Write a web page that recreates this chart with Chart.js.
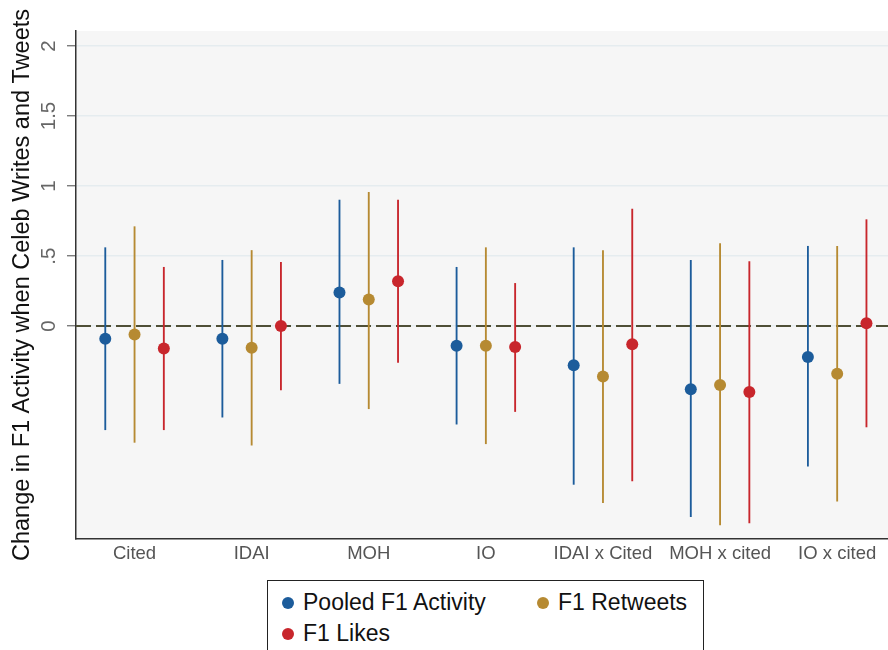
<!DOCTYPE html>
<html>
<head>
<meta charset="utf-8">
<script src="https://cdn.jsdelivr.net/npm/chart.js@4/dist/chart.umd.min.js"></script>
<style>
  body { margin: 0; background: #fff; font-family: "Liberation Sans", Arial, Helvetica, sans-serif; }
  #wrap { position: relative; width: 888px; height: 650px; overflow: hidden; }
  #legend {
    position: absolute; left: 267px; top: 580px; width: 437px; height: 90px;
    border: 1.5px solid #222; box-sizing: border-box;
    font-size: 23px; color: #111;
  }
  .item { position: absolute; white-space: nowrap; line-height: 23px; }
  .dot { position: absolute; width: 12px; height: 12px; border-radius: 50%; left: -21px; top: 5.5px; }
</style>
</head>
<body>
<div id="wrap">
  <canvas id="coefChart" width="888" height="575"></canvas>
  <div id="legend"></div>
</div>
<script>
// categories + tick labels
const categories = ['Cited', 'IDAI', 'MOH', 'IO', 'IDAI x Cited', 'MOH x cited', 'IO x cited'];
const yTicks = [0, 0.5, 1, 1.5, 2];
const yTickLabels = ['0', '.5', '1', '1.5', '2'];

// Pooled F1 Activity
const pooledEst = [-0.09, -0.09, 0.24, -0.14, -0.28, -0.45, -0.22];
const pooledLo  = [-0.74, -0.65, -0.41, -0.70, -1.13, -1.36, -1.00];
const pooledHi  = [0.56, 0.47, 0.90, 0.42, 0.56, 0.47, 0.57];

// F1 Retweets
const retweetEst = [-0.06, -0.155, 0.19, -0.14, -0.36, -0.42, -0.34];
const retweetLo  = [-0.83, -0.85, -0.59, -0.84, -1.26, -1.42, -1.25];
const retweetHi  = [0.71, 0.54, 0.955, 0.56, 0.54, 0.59, 0.57];

// F1 Likes
const likesEst = [-0.16, 0.00, 0.32, -0.15, -0.13, -0.47, 0.02];
const likesLo  = [-0.74, -0.455, -0.26, -0.61, -1.105, -1.405, -0.72];
const likesHi  = [0.42, 0.455, 0.90, 0.305, 0.835, 0.46, 0.76];

const seriesNames = ['Pooled F1 Activity', 'F1 Retweets', 'F1 Likes'];
const seriesColors = ['#1c5c9b', '#b68a32', '#c8262c'];
const series = [
    { est: pooledEst, lo: pooledLo, hi: pooledHi },
    { est: retweetEst, lo: retweetLo, hi: retweetHi },
    { est: likesEst, lo: likesLo, hi: likesHi }
];
const groupShift = [-0.25, 0, 0.25];   // spacing of the 3 series within a category

const FONT = '"Liberation Sans", Arial, Helvetica, sans-serif';

// build datasets: CI as thin floating bars, estimate as dot
const datasets = [];
series.forEach((s, k) => {
    datasets.push({
        type: 'scatter',
        label: seriesNames[k],
        data: s.est.map((v, i) => ({ x: i + groupShift[k], y: v })),
        pointRadius: 6,
        pointHoverRadius: 6,
        pointBackgroundColor: seriesColors[k],
        pointBorderWidth: 0,
        order: 0
    });
    datasets.push({
        type: 'bar',
        label: seriesNames[k] + ' CI',
        data: s.lo.map((v, i) => ({ x: i + groupShift[k], y: [v, s.hi[i]] })),
        backgroundColor: seriesColors[k],
        barThickness: 1.2,
        grouped: false,
        borderWidth: 0,
        order: 1
    });
});

// plot region background + dashed zero line
const plotDecor = {
    id: 'plotDecor',
    beforeDraw(chart) {
        const { ctx, chartArea: a } = chart;
        ctx.save();
        ctx.fillStyle = '#f6f6f6';
        ctx.fillRect(a.left, a.top, a.right - a.left, a.bottom - a.top);
        ctx.restore();
    },
    beforeDatasetsDraw(chart) {
        const { ctx, chartArea: a } = chart;
        const y0 = chart.scales.y.getPixelForValue(0);
        ctx.save();
        ctx.strokeStyle = '#4f4f36';
        ctx.lineWidth = 2;
        ctx.setLineDash([15, 5]);
        ctx.beginPath();
        ctx.moveTo(a.left, y0);
        ctx.lineTo(a.right, y0);
        ctx.stroke();
        ctx.restore();
    }
};

const coefChart = new Chart(document.getElementById('coefChart'), {
    type: 'bar',
    data: { datasets: datasets },
    options: {
        responsive: false,
        animation: false,
        layout: { autoPadding: false, padding: { top: 31, right: 0, left: 0, bottom: 0 } },
        plugins: {
            legend: { display: false },
            tooltip: { enabled: false }
        },
        scales: {
            x: {
                type: 'linear',
                min: -0.5,
                max: 6.434,   // plot runs past the right edge of the image
                offset: false,
                afterBuildTicks: (scale) => { scale.ticks = categories.map((c, i) => ({ value: i })); },
                afterFit: (scale) => { scale.height = 36; },
                grid: { display: false, drawTicks: false, offset: false },
                border: { display: true, color: '#333', width: 1.5 },
                ticks: {
                    padding: 4,
                    autoSkip: false,
                    maxRotation: 0,
                    color: '#555',
                    font: { family: FONT, size: 18.5 },
                    callback: (v) => categories[v]
                }
            },
            y: {
                type: 'linear',
                min: -1.52,
                max: 2.107,
                stacked: false,
                afterBuildTicks: (scale) => { scale.ticks = yTicks.map(v => ({ value: v })); },
                afterFit: (scale) => { scale.width = 76; },
                grid: { color: '#e5ecef', lineWidth: 1.5, tickColor: '#666', tickLength: 9, tickWidth: 1.2 },
                border: { display: true, color: '#333', width: 1.5 },
                ticks: {
                    minRotation: 90,
                    maxRotation: 90,
                    crossAlign: 'center',
                    padding: 3.5,
                    color: '#666',
                    font: { family: FONT, size: 20.5 },
                    callback: (v) => yTickLabels[yTicks.indexOf(v)]
                },
                title: {
                    display: true,
                    text: 'Change in F1 Activity when Celeb Writes and Tweets',
                    color: '#111',
                    font: { family: FONT, size: 23.5 },
                    padding: { top: 8, bottom: 0 }
                }
            }
        }
    },
    plugins: [plotDecor]
});

// legend box (html), built from series names/colors
const legendEl = document.getElementById('legend');
const legendPos = [[35, 10], [290, 10], [35, 41]];
seriesNames.forEach((name, k) => {
    const item = document.createElement('div');
    item.className = 'item';
    item.style.left = legendPos[k][0] + 'px';
    item.style.top = legendPos[k][1] + 'px';
    item.innerHTML = '<span class="dot" style="background:' + seriesColors[k] + '"></span>' + name;
    legendEl.appendChild(item);
});
</script>
</body>
</html>
